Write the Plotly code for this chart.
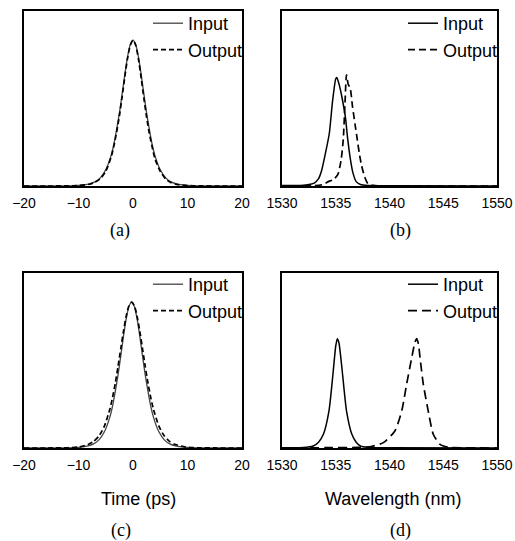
import plotly.graph_objects as go

# ---- data ----
t_a = [-20, -15, -12, -10, -8, -7, -6, -5, -4, -3.5, -3, -2.5, -2, -1.5, -1, -0.5, 0,
       0.5, 1, 1.5, 2, 2.5, 3, 3.5, 4, 5, 6, 7, 8, 10, 12, 15, 20]
input_a = [0, 0.0001, 0.0009, 0.0035, 0.014, 0.028, 0.056, 0.111, 0.212, 0.288, 0.388, 0.50, 0.63, 0.765, 0.885, 0.97, 1.0,
           0.97, 0.885, 0.765, 0.63, 0.50, 0.388, 0.288, 0.212, 0.111, 0.056, 0.028, 0.014, 0.0035, 0.0009, 0.0001, 0]
output_a = [0, 0.0001, 0.0008, 0.003, 0.012, 0.025, 0.05, 0.10, 0.20, 0.275, 0.37, 0.48, 0.61, 0.75, 0.875, 0.965, 1.0,
            0.965, 0.87, 0.74, 0.60, 0.47, 0.36, 0.27, 0.19, 0.10, 0.048, 0.022, 0.011, 0.003, 0.0008, 0.0001, 0]

t_c = [-20, -15, -12, -10, -8.25, -7.25, -6.25, -5.25, -4.25, -3.75, -3.25, -2.75, -2.25, -1.75, -1.25, -0.75, -0.25,
       0.25, 0.75, 1.25, 1.75, 2.25, 2.75, 3.25, 3.75, 4.75, 5.75, 6.75, 7.75, 9.75, 11.75, 15, 20]
input_c = [0, 0.0001, 0.0009, 0.0035, 0.014, 0.028, 0.056, 0.111, 0.212, 0.288, 0.388, 0.50, 0.63, 0.765, 0.885, 0.97, 1.0,
           0.97, 0.885, 0.765, 0.63, 0.50, 0.388, 0.288, 0.212, 0.111, 0.056, 0.028, 0.014, 0.0035, 0.0009, 0.0001, 0]
output_c = [0, 0.0002, 0.0018, 0.0066, 0.024, 0.044, 0.082, 0.150, 0.266, 0.347, 0.445, 0.558, 0.68, 0.80, 0.904, 0.975, 1.0,
            0.975, 0.904, 0.80, 0.68, 0.558, 0.445, 0.347, 0.266, 0.150, 0.082, 0.044, 0.024, 0.0066, 0.0018, 0.0002, 0]

wl_in_b = [1530, 1531, 1532, 1533, 1533.4, 1533.7, 1534, 1534.4, 1534.7, 1535, 1535.1, 1535.3, 1535.6, 1535.9,
           1536.1, 1536.35, 1536.6, 1536.9, 1537.3, 1538, 1540, 1550]
input_b = [0.003, 0.004, 0.006, 0.02, 0.05, 0.11, 0.21, 0.36, 0.58, 0.735, 0.744, 0.70, 0.60, 0.47,
           0.33, 0.19, 0.09, 0.03, 0.01, 0.004, 0.001, 0]
wl_out_b = [1530, 1533, 1533.8, 1534.3, 1534.8, 1535.2, 1535.5, 1535.7, 1535.85, 1536.0, 1536.15, 1536.35, 1536.55,
            1536.8, 1537.0, 1537.2, 1537.4, 1537.7, 1538.0, 1538.5, 1540, 1550]
output_b = [0, 0.002, 0.01, 0.03, 0.045, 0.08, 0.18, 0.32, 0.55, 0.763, 0.70, 0.67, 0.55,
            0.42, 0.32, 0.22, 0.14, 0.06, 0.015, 0.004, 0, 0]

wl_in_d = [1530, 1532, 1532.9, 1533.4, 1533.85, 1534.37, 1534.77, 1535.0, 1535.15, 1535.3, 1535.6, 1536.0,
           1536.5, 1536.9, 1537.3, 1538, 1540, 1550]
input_d = [0.002, 0.003, 0.014, 0.04, 0.094, 0.255, 0.53, 0.70, 0.75, 0.72, 0.53, 0.255,
           0.094, 0.04, 0.014, 0.004, 0.002, 0]
wl_out_d = [1530, 1534, 1537, 1538.3, 1539.43, 1540.5, 1541.14, 1541.6, 1542.07, 1542.35, 1542.53, 1542.7,
            1542.84, 1543.14, 1543.6, 1544.07, 1544.7, 1545.5, 1547, 1550]
output_d = [0, 0.002, 0.004, 0.01, 0.037, 0.117, 0.255, 0.44, 0.62, 0.72, 0.75, 0.71,
            0.62, 0.44, 0.255, 0.094, 0.025, 0.005, 0.001, 0]

time_ticks = [-20, -10, 0, 10, 20]
wl_ticks = [1530, 1535, 1540, 1545, 1550]

W, H = 515, 541
def px(x): return x / W
def py(y): return 1 - y / H

fig = go.Figure()

panels = [
    ("x", "y", "legend", t_a, input_a, t_a, output_a, "5px,3px", "#444444", 1.3),
    ("x2", "y2", "legend2", wl_in_b, input_b, wl_out_b, output_b, "7px,4px", "black", 1.5),
    ("x3", "y3", "legend3", t_c, input_c, t_c, output_c, "5px,3px", "#444444", 1.3),
    ("x4", "y4", "legend4", wl_in_d, input_d, wl_out_d, output_d, "9px,5px", "black", 1.5),
]
for xa, ya, lg, xi, yi, xo, yo, dash, ic, iw in panels:
    fig.add_trace(go.Scatter(x=xi, y=yi, mode="lines", name="Input", xaxis=xa, yaxis=ya, legend=lg,
                             line=dict(color=ic, width=iw, shape="spline", smoothing=0.6)))
    fig.add_trace(go.Scatter(x=xo, y=yo, mode="lines", name="Output", xaxis=xa, yaxis=ya, legend=lg,
                             line=dict(color="black", width=1.7, dash=dash, shape="spline", smoothing=0.6)))

axis_common = dict(showline=True, mirror=True, linecolor="black", linewidth=1.5, showgrid=False,
                   zeroline=False, ticks="", tickfont=dict(family="Liberation Sans, Arial", size=14, color="black"),
                   ticklabelstandoff=3, automargin=False, ticklabeloverflow="allow")
yaxis_common = dict(showline=True, mirror=True, linecolor="black", linewidth=1.5, showgrid=False,
                    zeroline=False, showticklabels=False, ticks="", range=[0, 1.2], automargin=False)

dom_a_x = [px(24), px(242)]
dom_b_x = [px(282), px(497)]
dom_top_y = [py(186), py(11)]
dom_bot_y = [py(448), py(273)]

fig.update_layout(
    xaxis=dict(domain=dom_a_x, anchor="y", range=[-20, 20], tickvals=time_ticks, **axis_common),
    yaxis=dict(domain=dom_top_y, anchor="x", **yaxis_common),
    xaxis2=dict(domain=dom_b_x, anchor="y2", range=[1530, 1550], tickvals=wl_ticks, **axis_common),
    yaxis2=dict(domain=dom_top_y, anchor="x2", **yaxis_common),
    xaxis3=dict(domain=dom_a_x, anchor="y3", range=[-20, 20], tickvals=time_ticks, **axis_common),
    yaxis3=dict(domain=dom_bot_y, anchor="x3", **yaxis_common),
    xaxis4=dict(domain=dom_b_x, anchor="y4", range=[1530, 1550], tickvals=wl_ticks, **axis_common),
    yaxis4=dict(domain=dom_bot_y, anchor="x4", **yaxis_common),
)

leg_common = dict(bgcolor="rgba(0,0,0,0)", borderwidth=0, xanchor="right", yanchor="top",
                  font=dict(family="Liberation Sans, Arial", size=18, color="black"),
                  itemwidth=30, tracegroupgap=0)
fig.update_layout(
    showlegend=True,
    legend=dict(x=px(248), y=py(5), **leg_common),
    legend2=dict(x=px(503), y=py(5), **leg_common),
    legend3=dict(x=px(248), y=py(266), **leg_common),
    legend4=dict(x=px(503), y=py(266), **leg_common),
)

serif = dict(family="Liberation Serif, Times New Roman", size=18, color="black")
sans = dict(family="Liberation Sans, Arial", size=18, color="black")
ann = [
    dict(text="(a)", x=px(120), y=py(230), font=serif),
    dict(text="(b)", x=px(400), y=py(230), font=serif),
    dict(text="Time (ps)", x=px(138), y=py(499), font=sans),
    dict(text="Wavelength (nm)", x=px(393), y=py(499), font=sans),
    dict(text="(c)", x=px(121), y=py(530), font=serif),
    dict(text="(d)", x=px(400), y=py(530), font=serif),
]
for a in ann:
    a.update(xref="paper", yref="paper", showarrow=False, xanchor="center", yanchor="middle")
fig.update_layout(annotations=ann)

fig.update_layout(width=W, height=H, margin=dict(l=0, r=0, t=0, b=0, autoexpand=False),
                  paper_bgcolor="white", plot_bgcolor="white")

fig.write_html("out.html", config={"displayModeBar": False},
               post_script="document.body.style.margin='0px';document.body.style.overflow='hidden';")
